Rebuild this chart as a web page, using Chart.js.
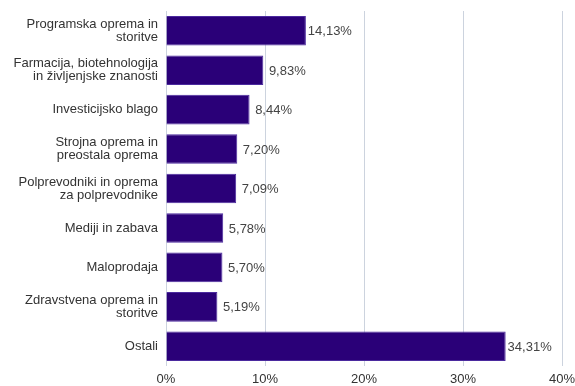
<!DOCTYPE html>
<html>
<head>
<meta charset="utf-8">
<script src="https://cdn.jsdelivr.net/npm/chart.js@4"></script>
<style>
  html, body { margin: 0; padding: 0; background: #fff; }
  #wrap { width: 575px; height: 386px; }
</style>
</head>
<body>
<div id="wrap"><canvas id="sectorChart"></canvas></div>
<script>
// --- DATA ---
const sectors = [
    ['Programska oprema in', 'storitve'],
    ['Farmacija, biotehnologija', 'in življenjske znanosti'],
    'Investicijsko blago',
    ['Strojna oprema in', 'preostala oprema'],
    ['Polprevodniki in oprema', 'za polprevodnike'],
    'Mediji in zabava',
    'Maloprodaja',
    ['Zdravstvena oprema in', 'storitve'],
    'Ostali'
];
const shares = [14.13, 9.83, 8.44, 7.20, 7.09, 5.78, 5.70, 5.19, 34.31];
const axisTicks = [0, 10, 20, 30, 40];

const FONT = 'Liberation Sans, Arial, sans-serif';
const pct = v => v.toFixed(2).replace('.', ',') + '%';

// value text centred a little past each bar end
const valueLabels = {
    id: 'valueLabels',
    afterDatasetsDraw(chart) {
        const ctx = chart.ctx;
        const meta = chart.getDatasetMeta(0);
        ctx.save();
        ctx.font = '13px ' + FONT;
        ctx.fillStyle = '#444';
        ctx.textAlign = 'center';
        ctx.textBaseline = 'middle';
        meta.data.forEach((bar, i) => {
            ctx.fillText(pct(shares[i]), bar.x + 24, bar.y + 1);
        });
        ctx.restore();
    }
};

new Chart(document.getElementById('sectorChart'), {
    type: 'bar',
    data: {
        labels: sectors,
        datasets: [{
            data: shares,
            backgroundColor: '#2a0078',
            borderColor: '#4b2a9e',
            borderWidth: 1,
            categoryPercentage: 0.75,
            barPercentage: 1
        }]
    },
    options: {
        indexAxis: 'y',
        responsive: true,
        maintainAspectRatio: false,
        animation: false,
        layout: { padding: { top: 11, right: 13, bottom: 0, left: 0 } },
        plugins: { legend: { display: false }, tooltip: { enabled: false } },
        scales: {
            x: {
                min: 0,
                max: 40,
                afterBuildTicks: s => { s.ticks = axisTicks.map(v => ({ value: v })); },
                afterFit: s => { s.height = 20; s.paddingLeft = 0; s.paddingRight = 0; },
                grid: { color: '#ccd3de', drawTicks: false },
                border: { display: false },
                ticks: {
                    padding: 6,
                    color: '#333',
                    font: { family: FONT, size: 13 },
                    callback: v => v + '%'
                }
            },
            y: {
                afterFit: s => { s.width = 166; s.paddingTop = 0; s.paddingBottom = 0; },
                grid: { display: false, drawTicks: false },
                border: { display: false },
                ticks: {
                    padding: 8,
                    color: '#333',
                    font: { family: FONT, size: 13, lineHeight: 1.0 }
                }
            }
        }
    },
    plugins: [valueLabels]
});
</script>
</body>
</html>
